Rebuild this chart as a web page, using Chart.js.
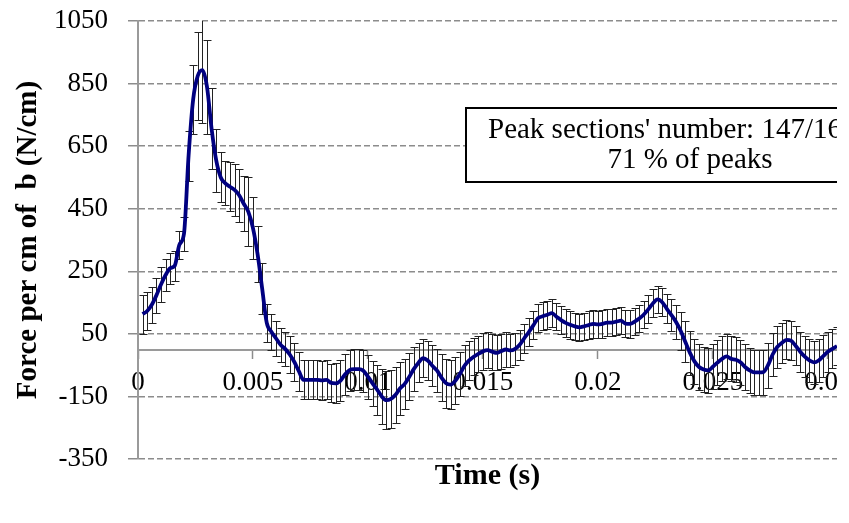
<!DOCTYPE html>
<html>
<head>
<meta charset="utf-8">
<title>Force per cm of b</title>
<script src="https://cdn.jsdelivr.net/npm/chart.js@4.4.1/dist/chart.umd.min.js"></script>
<style>
  html, body { margin: 0; padding: 0; background: #fff; }
  #wrap { width: 849px; height: 523px; overflow: hidden; background: #fff; }
  canvas { display: block; }
</style>
</head>
<body>
<div id="wrap"><canvas id="forceChart" width="837" height="523"></canvas></div>
<script>
// time (s) of each averaged sample
const times = [
  0.0002, 0.0004, 0.0006, 0.0008, 0.0010, 0.0012, 0.0014, 0.0016, 0.0018, 0.0020,
  0.0022, 0.0024, 0.0026, 0.0028, 0.0030, 0.0032, 0.0034, 0.0036, 0.0038, 0.0040,
  0.0042, 0.0044, 0.0046, 0.0048, 0.0050, 0.0052, 0.0054, 0.0056, 0.0058, 0.0060,
  0.0062, 0.0064, 0.0066, 0.0068, 0.0070, 0.0072, 0.0074, 0.0076, 0.0078, 0.0080,
  0.0082, 0.0084, 0.0086, 0.0088, 0.0090, 0.0092, 0.0094, 0.0096, 0.0098, 0.0100,
  0.0102, 0.0104, 0.0106, 0.0108, 0.0110, 0.0112, 0.0114, 0.0116, 0.0118, 0.0120,
  0.0122, 0.0124, 0.0126, 0.0128, 0.0130, 0.0132, 0.0134, 0.0136, 0.0138, 0.0140,
  0.0142, 0.0144, 0.0146, 0.0148, 0.0150, 0.0152, 0.0154, 0.0156, 0.0158, 0.0160,
  0.0162, 0.0164, 0.0166, 0.0168, 0.0170, 0.0172, 0.0174, 0.0176, 0.0178, 0.0180,
  0.0182, 0.0184, 0.0186, 0.0188, 0.0190, 0.0192, 0.0194, 0.0196, 0.0198, 0.0200,
  0.0202, 0.0204, 0.0206, 0.0208, 0.0210, 0.0212, 0.0214, 0.0216, 0.0218, 0.0220,
  0.0222, 0.0224, 0.0226, 0.0228, 0.0230, 0.0232, 0.0234, 0.0236, 0.0238, 0.0240,
  0.0242, 0.0244, 0.0246, 0.0248, 0.0250, 0.0252, 0.0254, 0.0256, 0.0258, 0.0260,
  0.0262, 0.0264, 0.0266, 0.0268, 0.0270, 0.0272, 0.0274, 0.0276, 0.0278, 0.0280,
  0.0282, 0.0284, 0.0286, 0.0288, 0.0290, 0.0292, 0.0294, 0.0296, 0.0298, 0.0300,
  0.0302, 0.0304
];

// mean force per cm (N/cm)
const forceMean = [
  113, 123, 143, 173, 208, 238, 260, 268, 335, 370,
  620, 800, 875, 893, 840, 706, 605, 550, 531, 520,
  510, 493, 466, 440, 388, 305, 195, 85, 57, 36,
  15, 2, -16, -40, -70, -97, -97, -97, -97, -99,
  -97, -107, -108, -100, -80, -66, -63, -63, -68, -87,
  -108, -128, -150, -162, -158, -145, -124, -110, -87, -62,
  -42, -28, -35, -52, -67, -90, -108, -112, -100, -78,
  -52, -35, -23, -14, -6, -2, -7, -11, -5, 0,
  -3, 2, 15, 36, 56, 78, 100, 106, 111, 116,
  105, 94, 85, 79, 74, 71, 74, 78, 82, 80,
  82, 86, 86, 89, 92, 83, 82, 89, 99, 112,
  129, 148, 160, 151, 130, 110, 88, 60, 25, -10,
  -38, -56, -64, -67, -55, -42, -30, -22, -30, -33,
  -41, -56, -67, -73, -73, -72, -50, -16, 8, 21,
  31, 28, 12, -7, -23, -35, -41, -35, -21, -7,
  2, 11
];

// half length of the error bars (N/cm)
const forceErr = [
  62, 60, 58, 56, 55, 52, 50, 48, 45, 55,
  80, 110, 140, 168, 150, 130, 100, 80, 70, 78,
  82, 85, 88, 110, 100, 90, 80, 62, 58, 56,
  55, 55, 58, 60, 62, 62, 62, 62, 62, 62,
  62, 62, 64, 66, 66, 66, 66, 66, 68, 70,
  72, 80, 88, 92, 92, 90, 85, 80, 75, 70,
  62, 60, 62, 65, 70, 75, 78, 78, 75, 70,
  65, 62, 60, 58, 58, 58, 58, 56, 56, 55,
  52, 50, 48, 46, 45, 45, 45, 45, 45, 45,
  44, 44, 44, 44, 44, 44, 44, 44, 44, 44,
  44, 44, 44, 44, 44, 44, 44, 44, 44, 44,
  44, 44, 44, 44, 46, 50, 55, 60, 65, 70,
  72, 72, 72, 72, 72, 72, 72, 72, 72, 72,
  72, 72, 72, 72, 72, 72, 72, 70, 68, 65,
  62, 62, 62, 64, 66, 68, 68, 68, 66, 64,
  62, 62
];

const xTicks = [0, 0.005, 0.01, 0.015, 0.02, 0.025, 0.03];
const yTicks = [-350, -150, 50, 250, 450, 650, 850, 1050];
const boxLines = ["Peak sections' number: 147/166", "71 % of peaks"];

const serif = "'Liberation Serif', 'Times New Roman', serif";
Chart.defaults.font.family = serif;
Chart.defaults.color = '#000';

// error bars drawn under the mean line
const errorBars = {
  id: 'errorBars',
  beforeDatasetsDraw(chart) {
    const { ctx, chartArea, scales: { x, y } } = chart;
    ctx.save();
    ctx.beginPath();
    ctx.rect(chartArea.left, chartArea.top, chartArea.right - chartArea.left, chartArea.bottom - chartArea.top);
    ctx.clip();
    ctx.strokeStyle = '#222';
    ctx.lineWidth = 1;
    ctx.beginPath();
    times.forEach((t, i) => {
      const px = Math.round(x.getPixelForValue(t)) + 0.5;
      const top = Math.round(y.getPixelForValue(forceMean[i] + forceErr[i])) + 0.5;
      const bot = Math.round(y.getPixelForValue(forceMean[i] - forceErr[i])) + 0.5;
      ctx.moveTo(px, top); ctx.lineTo(px, bot);
      ctx.moveTo(px - 4, top); ctx.lineTo(px + 4, top);
      ctx.moveTo(px - 4, bot); ctx.lineTo(px + 4, bot);
    });
    ctx.stroke();
    ctx.restore();
  }
};

// text box in the upper right, it runs past the cropped edge
const peakBox = {
  id: 'peakBox',
  afterDraw(chart) {
    const ctx = chart.ctx;
    const left = 466, top = 108, w = 448, h = 74;
    ctx.save();
    ctx.fillStyle = '#fff';
    ctx.fillRect(left, top, w, h);
    ctx.strokeStyle = '#000';
    ctx.lineWidth = 2;
    ctx.strokeRect(left, top, w, h);
    ctx.fillStyle = '#000';
    ctx.font = '29px ' + serif;
    ctx.textBaseline = 'alphabetic';
    ctx.textAlign = 'left';
    ctx.fillText(boxLines[0], left + 22, top + 30);
    ctx.textAlign = 'center';
    ctx.fillText(boxLines[1], left + w / 2, top + 60);
    ctx.restore();
  }
};

const timeTitle = {
  id: 'timeTitle',
  afterDraw(chart) {
    const { ctx, chartArea } = chart;
    ctx.save();
    ctx.fillStyle = '#000';
    ctx.font = 'bold 30px ' + serif;
    ctx.textAlign = 'center';
    ctx.textBaseline = 'middle';
    ctx.fillText('Time (s)', (chartArea.left + chartArea.right) / 2, 476);
    ctx.restore();
  }
};

new Chart(document.getElementById('forceChart'), {
  type: 'line',
  data: {
    datasets: [{
      data: times.map((t, i) => ({ x: t, y: forceMean[i] })),
      borderColor: '#000080',
      borderWidth: 3.8,
      pointRadius: 0,
      cubicInterpolationMode: 'monotone',
      fill: false
    }]
  },
  options: {
    responsive: false,
    animation: false,
    layout: { padding: { top: 21, right: 0, bottom: 64, left: 0 } },
    plugins: { legend: { display: false }, tooltip: { enabled: false } },
    scales: {
      x: {
        type: 'linear',
        position: { y: 0 },
        min: 0,
        max: 0.0304,
        afterBuildTicks: s => { s.ticks = xTicks.map(v => ({ value: v })); },
        afterFit: s => { s.paddingLeft = 0; s.paddingRight = 0; },
        ticks: {
          autoSkip: false,
          maxRotation: 0,
          padding: 9,
          color: '#000',
          font: { size: 27 },
          callback: v => String(v)
        },
        grid: { drawOnChartArea: false, drawTicks: true, tickLength: 8, tickColor: '#8c8c8c', tickWidth: 1.5 },
        border: { color: '#9a9a9a', width: 2 }
      },
      y: {
        min: -350,
        max: 1050,
        afterBuildTicks: s => { s.ticks = yTicks.map(v => ({ value: v })); },
        afterFit: s => { s.width = 138; s.paddingTop = 0; s.paddingBottom = 0; },
        ticks: { padding: 20, color: '#000', font: { size: 27 }, callback: v => String(v) },
        grid: { color: '#8c8c8c', lineWidth: 1.5, tickLength: 10, tickColor: '#8c8c8c', tickWidth: 1.5, tickBorderDash: [] },
        border: { dash: [6, 3], color: '#9a9a9a', width: 2 },
        title: {
          display: true,
          text: 'Force per cm of  b (N/cm)',
          color: '#000',
          font: { size: 29, weight: 'bold' },
          padding: { top: 11, bottom: 0 }
        }
      }
    }
  },
  plugins: [errorBars, peakBox, timeTitle]
});
</script>
</body>
</html>
